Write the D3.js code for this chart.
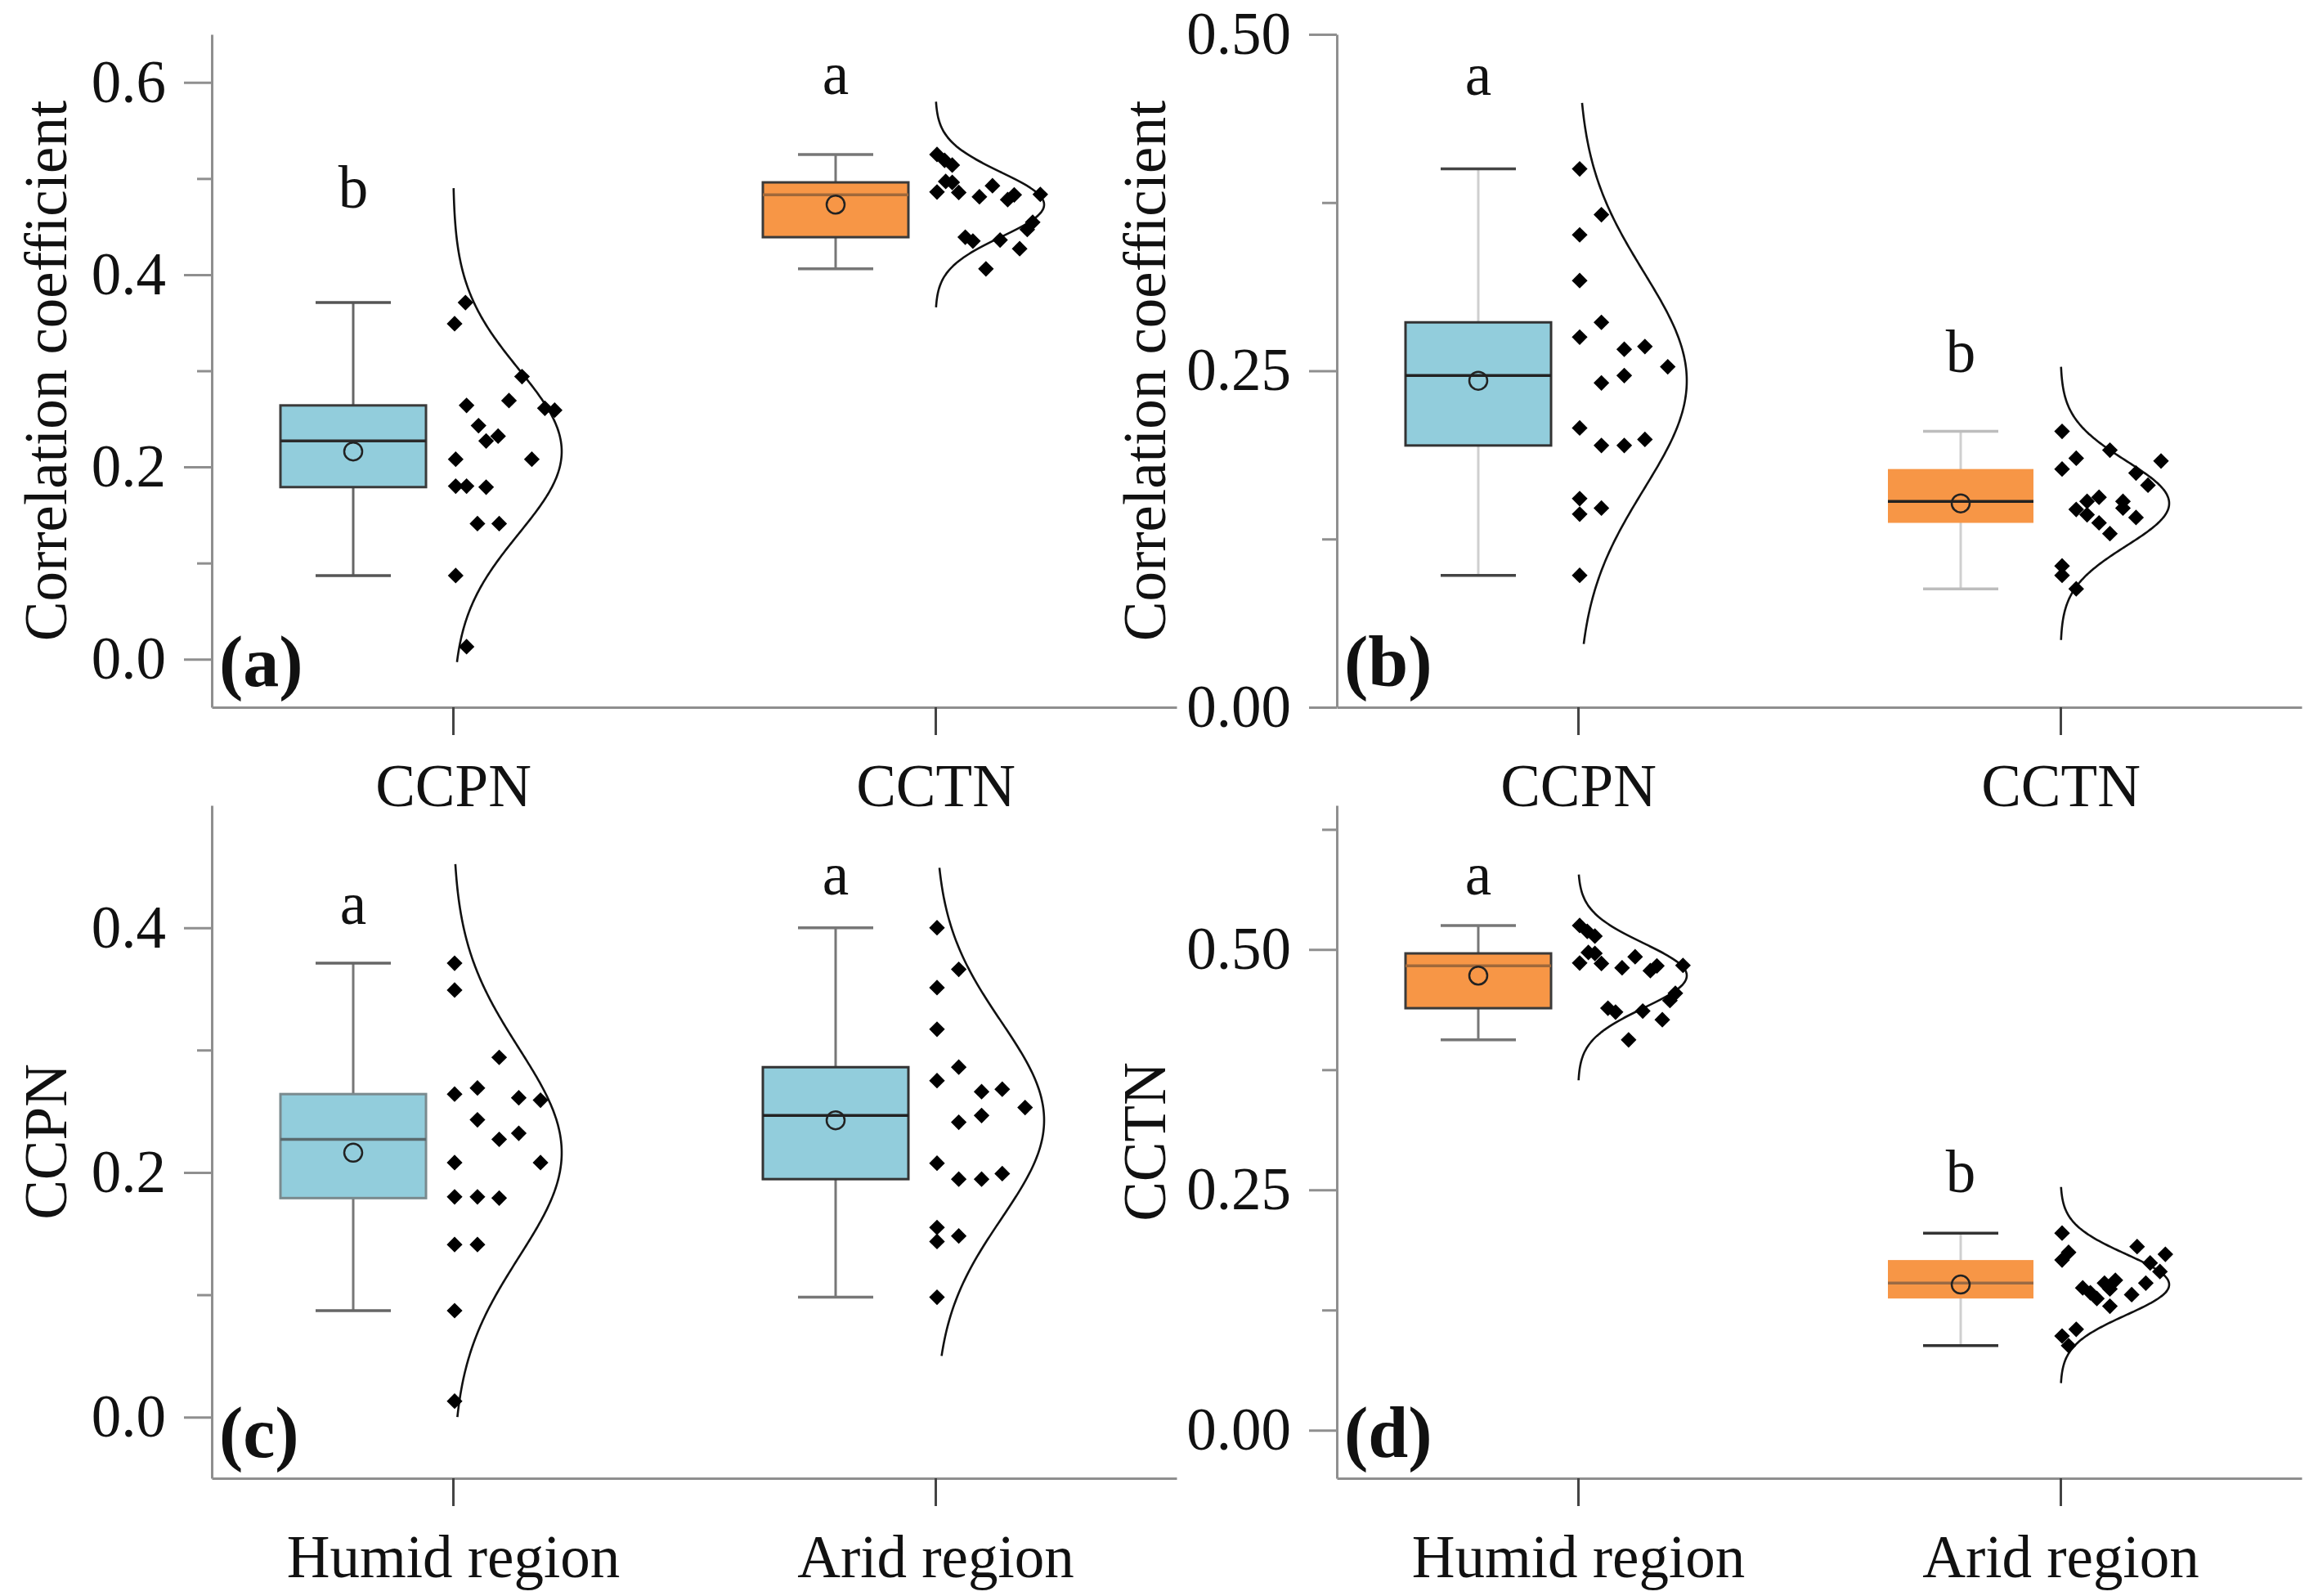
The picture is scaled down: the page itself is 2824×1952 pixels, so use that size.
<!DOCTYPE html>
<html lang="en">
<head>
<meta charset="UTF-8">
<title>Correlation coefficients, humid vs arid region</title>
<script src="https://cdnjs.cloudflare.com/ajax/libs/d3/7.8.5/d3.min.js"></script>
<style>
  body { margin: 0; background: #fff; }
  svg { display: block; font-family: "Liberation Serif", "Times New Roman", serif; }
  .axis path, .axis line { stroke: #8f8f8f; stroke-width: 3px; }
  .axis text { font-family: "Liberation Serif", "Times New Roman", serif; font-size: 73px; fill: #111; }
  .xaxis line { stroke: #444; }
</style>
</head>
<body>
<svg id="chart" width="2824" height="1952"></svg>
<script>
// ---- data ----
const indices = ["CCPN", "CCTN"];
const regions = ["Humid region", "Arid region"];

// 19 sites per group, listed from highest to lowest
const ccpnHumid = [0.371, 0.349, 0.294, 0.269, 0.264, 0.261, 0.259, 0.243, 0.232, 0.227,
                   0.208, 0.208, 0.180, 0.180, 0.179, 0.141, 0.141, 0.087, 0.013];
const ccpnArid  = [0.400, 0.366, 0.351, 0.317, 0.286, 0.275, 0.268, 0.266, 0.253, 0.2465,
                   0.241, 0.2075, 0.199, 0.1945, 0.1945, 0.155, 0.148, 0.1435, 0.098];
const cctnHumid = [0.525, 0.519, 0.514, 0.497, 0.496, 0.4925, 0.486, 0.4855, 0.4835, 0.483,
                   0.481, 0.478, 0.4545, 0.447, 0.439, 0.436, 0.435, 0.427, 0.406];
const cctnArid  = [0.205, 0.191, 0.185, 0.183, 0.177, 0.174, 0.165, 0.156, 0.153, 0.153,
                   0.148, 0.147, 0.143, 0.141, 0.137, 0.129, 0.105, 0.098, 0.088];

// horizontal jitter of the dots (0 = next to the tick, 1 = full strip), as drawn in each panel
const jitterCcpnHumidA = [.10, 0, .62, .50, .11, .83, .92, .22, .40, .29, .01, .71, .01, .11, .29, .21, .41, .01, .11];
const jitterCcpnHumidC = [0, 0, .41, .21, 0, .59, .79, .21, .59, .41, 0, .79, 0, .21, .41, 0, .21, 0, 0];
const jitterCcpnArid   = [0, .20, 0, 0, .20, 0, .60, .41, .81, .41, .20, 0, .60, .20, .41, 0, .20, 0, 0];
const jitterCctnHumid  = [0, .07, .14, .08, .14, .51, 0, .20, .95, .71, .39, .65, .88, .83, .26, .58, .33, .76, .45];
const jitterCctnAridB  = [0, .44, .13, .91, 0, .68, .79, .34, .23, .56, .56, .13, .23, .68, .34, .44, 0, 0, .13];
const jitterCctnAridD  = [0, .69, .06, .95, 0, .81, .90, .49, .39, .77, .19, .44, .26, .64, .32, .44, .13, 0, .06];

// extent of the fitted normal curve, per panel [left group, right group]
const curveA = [[-0.003, 0.490], [0.366, 0.580]];
const curveB = [[0.047, 0.449], [0.050, 0.253]];
const curveC = [[0.000, 0.452], [0.050, 0.449]];
const curveD = [[0.364, 0.578], [0.049, 0.253]];

// significance letters and the value of their baseline
const lettersA = ["b", "a"], letterYA = [0.470, 0.588];
const lettersB = ["a", "b"], letterYB = [0.455, 0.249];
const lettersC = ["a", "a"], letterYC = [0.403, 0.427];
const lettersD = ["a", "b"], letterYD = [0.557, 0.248];

// ---- look ----
const BLUE = "#92cddc", ORANGE = "#f79646";
const W = 1180, H = 823;
const BOX_OFF = -122, BOX_W = 178, CAP_W = 92, STRIP = 133, BUMP = 133;

const styles = {
  aL: { fill: BLUE,   border: "#3a3a3a", median: "#2b2b2b", stem: "#666", cap: "#555" },
  aR: { fill: ORANGE, border: "#3a3a3a", median: "#a0683a", stem: "#777", cap: "#777" },
  bL: { fill: BLUE,   border: "#333",    median: "#222",    stem: "#cfcfcf", cap: "#444" },
  bR: { fill: ORANGE, border: "none",    median: "#222",    stem: "#cfcfcf", cap: "#bdbdbd" },
  cL: { fill: BLUE,   border: "#7a8a8e", median: "#5a6a6e", stem: "#777", cap: "#666" },
  cR: { fill: BLUE,   border: "#333",    median: "#222",    stem: "#777", cap: "#777" },
  dL: { fill: ORANGE, border: "#3a3a3a", median: "#a0683a", stem: "#777", cap: "#777" },
  dR: { fill: ORANGE, border: "none",    median: "#9a6a44", stem: "#cfcfcf", cap: "#333" }
};

const panels = [
  { tag: "(a)", x: 259,  y: 42,  cats: indices, dom: [-0.05, 0.65], major: [0, 0.2, 0.4, 0.6],
    minor: [0.1, 0.3, 0.5], fmt: ".1f", title: "Correlation coefficient", tOff: 178,
    groups: [ccpnHumid, cctnHumid], jit: [jitterCcpnHumidA, jitterCctnHumid], curve: curveA,
    letters: lettersA, letterY: letterYA, st: [styles.aL, styles.aR] },
  { tag: "(b)", x: 1635, y: 42,  cats: indices, dom: [0, 0.5], major: [0, 0.25, 0.5],
    minor: [0.125, 0.375], fmt: ".2f", title: "Correlation coefficient", tOff: 210,
    groups: [ccpnArid, cctnArid], jit: [jitterCcpnArid, jitterCctnAridB], curve: curveB,
    letters: lettersB, letterY: letterYB, st: [styles.bL, styles.bR] },
  { tag: "(c)", x: 259,  y: 985, cats: regions, dom: [-0.05, 0.5], major: [0, 0.2, 0.4],
    minor: [0.1, 0.3], fmt: ".1f", title: "CCPN", tOff: 178,
    groups: [ccpnHumid, ccpnArid], jit: [jitterCcpnHumidC, jitterCcpnArid], curve: curveC,
    letters: lettersC, letterY: letterYC, st: [styles.cL, styles.cR] },
  { tag: "(d)", x: 1635, y: 985, cats: regions, dom: [-0.05, 0.65], major: [0, 0.25, 0.5],
    minor: [0.125, 0.375, 0.625], fmt: ".2f", title: "CCTN", tOff: 210,
    groups: [cctnHumid, cctnArid], jit: [jitterCctnHumid, jitterCctnAridD], curve: curveD,
    letters: lettersD, letterY: letterYD, st: [styles.dL, styles.dR] }
];

// quartile at (n+1)p, like Origin
function quart(sorted, p) {
  const pos = (sorted.length + 1) * p - 1;
  const lo = Math.floor(pos), f = pos - lo;
  return sorted[lo] + f * ((sorted[lo + 1] ?? sorted[lo]) - sorted[lo]);
}
function boxStats(vals) {
  const s = vals.slice().sort(d3.ascending);
  const q1 = quart(s, 0.25), med = quart(s, 0.5), q3 = quart(s, 0.75);
  const iqr = q3 - q1;
  const inside = s.filter(v => v >= q1 - 1.5 * iqr && v <= q3 + 1.5 * iqr);
  return { q1, med, q3, lo: d3.min(inside), hi: d3.max(inside), mean: d3.mean(s), sd: d3.deviation(s) };
}

const svg = d3.select("#chart");
svg.append("rect").attr("width", 2824).attr("height", 1952).attr("fill", "#fff");
const diamond = d3.symbol().type(d3.symbolSquare).size(185);

panels.forEach(p => {
  const g = svg.append("g");
  const y = d3.scaleLinear().domain(p.dom).range([p.y + H, p.y]);
  const x = d3.scalePoint().domain(p.cats).range([p.x, p.x + W]).padding(0.5);

  // axes
  g.append("g").attr("class", "axis")
    .attr("transform", `translate(${p.x},0)`)
    .call(d3.axisLeft(y).tickValues(p.minor).tickSize(18).tickSizeOuter(0).tickFormat(""))
    .call(a => a.select(".domain").remove());
  g.append("g").attr("class", "axis")
    .attr("transform", `translate(${p.x},0)`)
    .call(d3.axisLeft(y).tickValues(p.major).tickSize(34).tickSizeOuter(0)
      .tickPadding(22).tickFormat(d3.format(p.fmt)));
  g.append("g").attr("class", "axis xaxis")
    .attr("transform", `translate(0,${p.y + H})`)
    .call(d3.axisBottom(x).tickSize(34).tickSizeOuter(0).tickPadding(35));

  g.append("text")
    .attr("transform", `translate(${p.x - p.tOff},${p.y + H / 2}) rotate(-90)`)
    .attr("text-anchor", "middle")
    .style("font-size", "73px").attr("fill", "#111")
    .text(p.title);

  g.append("text")
    .attr("x", p.x + 9).attr("y", p.y + H - 26)
    .style("font-size", "88px").style("font-weight", "bold").attr("fill", "#111")
    .text(p.tag);

  p.cats.forEach((cat, i) => {
    const vals = p.groups[i], st = p.st[i], s = boxStats(vals);
    const cx = x(cat), bx = cx + BOX_OFF;

    // whisker stem and caps
    g.append("line").attr("x1", bx).attr("x2", bx).attr("y1", y(s.lo)).attr("y2", y(s.hi))
      .attr("stroke", st.stem).attr("stroke-width", 3);
    [s.lo, s.hi].forEach(v => {
      g.append("line").attr("x1", bx - CAP_W / 2).attr("x2", bx + CAP_W / 2)
        .attr("y1", y(v)).attr("y2", y(v))
        .attr("stroke", st.cap).attr("stroke-width", 3.5);
    });

    // box
    g.append("rect")
      .attr("x", bx - BOX_W / 2).attr("width", BOX_W)
      .attr("y", y(s.q3)).attr("height", y(s.q1) - y(s.q3))
      .attr("fill", st.fill)
      .attr("stroke", st.border).attr("stroke-width", 3);
    g.append("line").attr("x1", bx - BOX_W / 2).attr("x2", bx + BOX_W / 2)
      .attr("y1", y(s.med)).attr("y2", y(s.med))
      .attr("stroke", st.median).attr("stroke-width", 3.5);
    g.append("circle").attr("cx", bx).attr("cy", y(s.mean)).attr("r", 11)
      .attr("fill", "none").attr("stroke", "#222").attr("stroke-width", 2.5);

    // fitted normal curve
    const [c0, c1] = p.curve[i];
    const steps = d3.range(0, 201).map(k => c0 + (c1 - c0) * k / 200);
    const line = d3.line()
      .x(v => cx + BUMP * Math.exp(-((v - s.mean) ** 2) / (2 * s.sd * s.sd)))
      .y(v => y(v))
      .curve(d3.curveBasis);
    g.append("path").attr("d", line(steps))
      .attr("fill", "none").attr("stroke", "#111").attr("stroke-width", 2.6);

    // data points
    g.selectAll(null).data(vals).enter().append("path")
      .attr("d", diamond)
      .attr("transform", (v, k) => `translate(${cx + 2 + p.jit[i][k] * STRIP},${y(v)}) rotate(45)`)
      .attr("fill", "#000");

    // significance letter
    g.append("text")
      .attr("x", bx).attr("y", y(p.letterY[i]))
      .attr("text-anchor", "middle")
      .style("font-size", "73px").attr("fill", "#111")
      .text(p.letters[i]);
  });
});
</script>
</body>
</html>
